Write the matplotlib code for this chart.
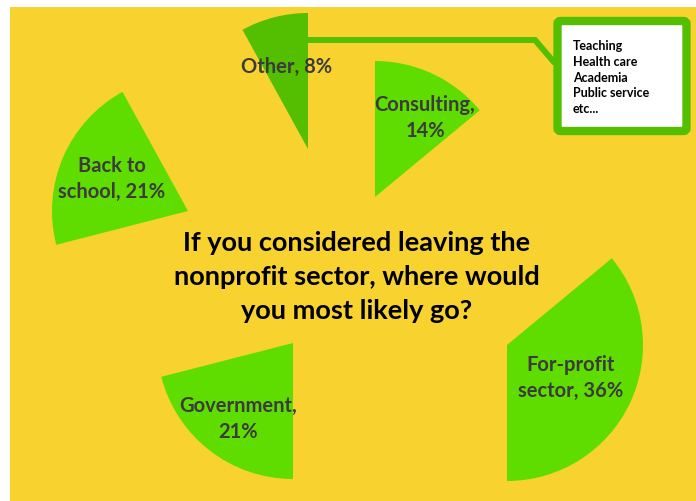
import matplotlib.pyplot as plt
from matplotlib.lines import Line2D
from matplotlib.patches import FancyBboxPatch, Rectangle

# survey answers, clockwise from 12 o'clock
categories = ["Consulting", "For-profit\nsector", "Government", "Back to\nschool", "Other"]
shares = [14, 36, 21, 21, 8]
break_after_comma = [True, False, True, False, False]

title_lines = ["If you considered leaving the",
               "nonprofit sector, where would",
               "you most likely go?"]
other_examples = ["Teaching", "Health care", "Academia", "Public service", "etc..."]

# layout (pixels, y pointing up)
W, H = 696, 502
slice_centers = [(375, 304), (507, 156), (293, 158), (188, 290), (308, 352)]
label_pos = [(425, 384), (571, 124), (238, 83), (112, 323), (287, 435)]
radius = 136

yellow = "#F8D330"
green = "#5FDD00"
dark_green = "#54BF00"
slice_colors = [green, green, green, green, dark_green]

plt.rcParams['font.family'] = ['Lato', 'DejaVu Sans']

fig = plt.figure(figsize=(W / 100, H / 100), dpi=100)
fig.patch.set_facecolor("white")
ax = fig.add_axes([0, 0, 1, 1])

wedges, _ = ax.pie(shares, startangle=90, counterclock=False, radius=radius,
                   colors=slice_colors, wedgeprops=dict(linewidth=0))
for w, c in zip(wedges, slice_centers):
    w.set_center(c)
    w.set_zorder(3)

ax.set_xlim(0, W)
ax.set_ylim(0, H)
ax.set_aspect("equal")
ax.set_axis_off()

# yellow slide area, white strip on top and left
ax.add_patch(Rectangle((10, 0), W - 10, H - 8, facecolor=yellow, edgecolor="none", zorder=0))

for (name, v, brk), (x, y) in zip(zip(categories, shares, break_after_comma), label_pos):
    sep = ",\n" if brk else ", "
    ax.text(x, y, f"{name}{sep}{v}%", ha="center", va="center", fontsize=14.5,
            fontweight="bold", color="#3B3B3B", linespacing=1.4, zorder=5)

ax.text(357, 225, "\n".join(title_lines), ha="center", va="center", fontsize=19.5,
        fontweight="bold", color="black", linespacing=1.5, zorder=5)

# callout from the "Other" slice to the list box
ax.add_line(Line2D([308, 535, 553], [461, 461, 440], color=dark_green,
                   linewidth=4.3, solid_joinstyle="miter", zorder=2))
box = FancyBboxPatch((557.5, 370), 129, 110, boxstyle="round,pad=0,rounding_size=3",
                     facecolor="white", edgecolor=dark_green, linewidth=6, zorder=4)
ax.add_patch(box)
ax.text(573, 462, "\n".join(other_examples), ha="left", va="top", fontsize=9,
        fontweight="bold", color="black", linespacing=1.38, zorder=5)

fig.savefig("out.png", dpi=100, facecolor=fig.get_facecolor())
